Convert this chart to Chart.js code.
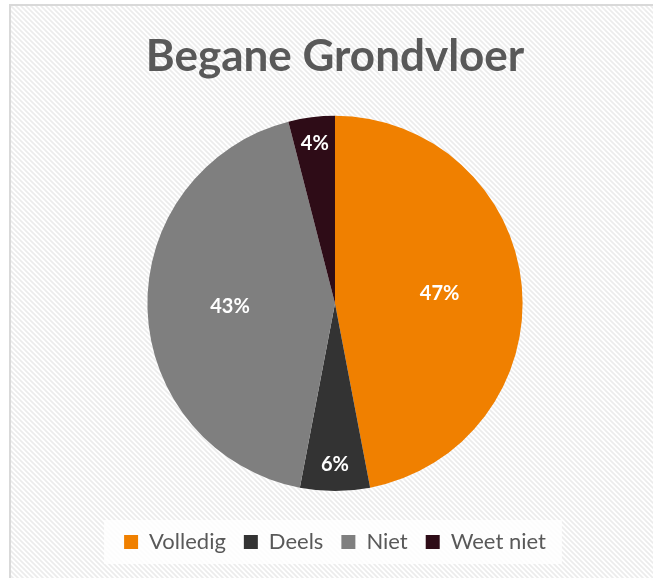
<!DOCTYPE html>
<html>
<head>
<meta charset="utf-8">
<script src="https://cdn.jsdelivr.net/npm/chart.js@4.4.1/dist/chart.umd.min.js"></script>
<style>
  html, body { margin: 0; padding: 0; background: #fff; }
  #wrap { width: 653px; height: 578px; }
</style>
</head>
<body>
<div id="wrap"><canvas id="myChart" width="653" height="578"></canvas></div>
<script>
// data
const labels = ['Volledig', 'Deels', 'Niet', 'Weet niet'];
const percentages = [47, 6, 43, 4];
const sliceColors = ['#f08000', '#333333', '#7f7f7f', '#2e0c17'];
const chartTitle = 'Begane Grondvloer';

const FONT = 'Lato, "Open Sans", sans-serif';

// striped background + left/top border
function makeHatch(ctx) {
    const c = document.createElement('canvas');
    c.width = 5; c.height = 5;
    const p = c.getContext('2d');
    p.fillStyle = '#ffffff';
    p.fillRect(0, 0, 5, 5);
    p.strokeStyle = '#ececec';
    p.lineWidth = 1.6;
    p.beginPath();
    p.moveTo(-1, -1); p.lineTo(6, 6);
    p.moveTo(-1, 4); p.lineTo(1, 6);
    p.moveTo(4, -1); p.lineTo(6, 1);
    p.stroke();
    return ctx.createPattern(c, 'repeat');
}

const backgroundPlugin = {
    id: 'bg',
    beforeDraw(chart) {
        const ctx = chart.ctx;
        ctx.save();
        ctx.fillStyle = '#ffffff';
        ctx.fillRect(0, 0, chart.width, chart.height);
        ctx.fillStyle = makeHatch(ctx);
        ctx.fillRect(10, 5, chart.width - 10, chart.height - 5);
        ctx.strokeStyle = '#d9d9d9';
        ctx.lineWidth = 2;
        ctx.beginPath();
        ctx.moveTo(10, chart.height);
        ctx.lineTo(10, 5);
        ctx.lineTo(chart.width, 5);
        ctx.stroke();

        // white box behind the legend
        const boxes = chart.legend.legendHitBoxes;
        if (boxes && boxes.length) {
            let x0 = Infinity, x1 = -Infinity, y0 = Infinity, y1 = -Infinity;
            boxes.forEach(b => {
                x0 = Math.min(x0, b.left); x1 = Math.max(x1, b.left + b.width);
                y0 = Math.min(y0, b.top); y1 = Math.max(y1, b.top + b.height);
            });
            ctx.fillStyle = 'rgba(255,255,255,0.85)';
            ctx.fillRect(x0 - 20, y0 - 11, x1 - x0 + 36, y1 - y0 + 22);
        }
        ctx.restore();
    }
};

// percentage labels inside the slices
const labelPlugin = {
    id: 'pctLabels',
    afterDatasetsDraw(chart) {
        const ctx = chart.ctx;
        const meta = chart.getDatasetMeta(0);
        ctx.save();
        ctx.font = 'bold 20px ' + FONT;
        ctx.fillStyle = '#ffffff';
        ctx.textAlign = 'center';
        ctx.textBaseline = 'middle';
        meta.data.forEach((arc, i) => {
            const v = percentages[i];
            const mid = (arc.startAngle + arc.endAngle) / 2;
            const f = v < 10 ? 0.86 : 0.56;
            const r = arc.outerRadius * f;
            ctx.fillText(v + '%', arc.x + Math.cos(mid) * r, arc.y + Math.sin(mid) * r);
        });
        ctx.restore();
    }
};

new Chart(document.getElementById('myChart'), {
    type: 'pie',
    data: {
        labels: labels,
        datasets: [{
            data: percentages,
            backgroundColor: sliceColors,
            borderWidth: 0
        }]
    },
    options: {
        responsive: false,
        animation: false,
        layout: { padding: { left: 30, right: 13, top: 0, bottom: 15 } },
        plugins: {
            title: {
                display: true,
                text: chartTitle,
                color: '#595959',
                font: { family: FONT, size: 44, weight: 'bold', lineHeight: 1.2 },
                padding: { top: 30, bottom: 33 }
            },
            legend: {
                position: 'bottom',
                // invisible legend title, only used as a gap above the items
                title: {
                    display: true,
                    text: ' ',
                    font: { size: 1, lineHeight: 1 },
                    padding: { top: 21, bottom: 0 }
                },
                labels: {
                    color: '#595959',
                    font: { family: FONT, size: 22 },
                    boxWidth: 14,
                    boxHeight: 14,
                    padding: 18
                }
            },
            tooltip: { enabled: false }
        }
    },
    plugins: [backgroundPlugin, labelPlugin]
});
</script>
</body>
</html>
